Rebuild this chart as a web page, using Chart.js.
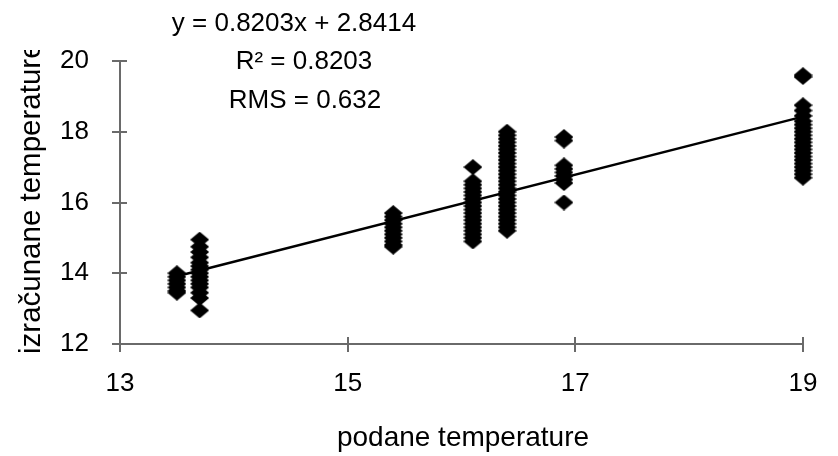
<!DOCTYPE html>
<html>
<head>
<meta charset="utf-8">
<script src="https://cdn.jsdelivr.net/npm/chart.js@4.4.0/dist/chart.umd.min.js"></script>
<style>
  html, body { margin: 0; padding: 0; background: #fff; }
</style>
</head>
<body>
<canvas id="chart" width="838" height="456"></canvas>
<script>
// axis ticks
const xTicks = [13, 15, 17, 19];
const yTicks = [12, 14, 16, 18, 20];

// measured y values, one list per measured x
const at13_5 = [14.0, 13.9, 13.8, 13.7, 13.6, 13.5, 13.45];
const at13_7 = [14.95, 14.75, 14.6, 14.45, 14.3, 14.2, 14.1, 14.0, 13.9, 13.8, 13.7, 13.6, 13.45, 13.3, 12.95];
const at15_4 = [15.7, 15.6, 15.5, 15.4, 15.3, 15.2, 15.1, 15.0, 14.9, 14.8, 14.75];
const at16_1 = [17.0, 16.6, 16.5, 16.4, 16.3, 16.2, 16.1, 16.0, 15.9, 15.8, 15.7, 15.6, 15.5, 15.4, 15.3, 15.2, 15.1, 15.0, 14.9];
const at16_4 = [18.0, 17.9, 17.8, 17.7, 17.6, 17.5, 17.4, 17.3, 17.2, 17.1, 17.0, 16.9, 16.8, 16.7, 16.6, 16.5, 16.4, 16.3, 16.2, 16.1, 16.0, 15.9, 15.8, 15.7, 15.6, 15.5, 15.4, 15.3, 15.2];
const at16_9 = [17.85, 17.75, 17.05, 16.95, 16.85, 16.75, 16.65, 16.55, 16.0];
const at19_0 = [19.6, 19.55, 18.75, 18.6, 18.45, 18.3, 18.2, 18.1, 18.0, 17.9, 17.8, 17.7, 17.6, 17.5, 17.4, 17.3, 17.2, 17.1, 17.0, 16.9, 16.8, 16.7];

const clusterX = [13.5, 13.7, 15.4, 16.1, 16.4, 16.9, 19.0];
const clusterY = [at13_5, at13_7, at15_4, at16_1, at16_4, at16_9, at19_0];

// fitted line (from the equation on the chart)
const fitSlope = 0.8203;
const fitIntercept = 2.8414;
const fitX = [13.5, 19];

const fitLabels = ['y = 0.8203x + 2.8414', 'R\u00B2 = 0.8203', 'RMS = 0.632'];
const xTitle = 'podane temperature';
const yTitle = 'izračunane temperature';

const FONT = '"Liberation Sans", Arial, sans-serif';
const axisColor = '#6a6a6a';

const points = [];
clusterX.forEach((x, i) => clusterY[i].forEach(y => points.push({ x, y })));
const fitPoints = fitX.map(x => ({ x, y: fitSlope * x + fitIntercept }));

// diamond marker, a bit wider than tall like the original
function makeDiamond(w, h) {
  const c = document.createElement('canvas');
  c.width = w; c.height = h;
  const g = c.getContext('2d');
  g.fillStyle = '#000';
  g.beginPath();
  g.moveTo(0, h / 2);
  g.lineTo(w / 2, 0);
  g.lineTo(w, h / 2);
  g.lineTo(w / 2, h);
  g.closePath();
  g.fill();
  return c;
}
const diamond = makeDiamond(19, 16);

const decorPlugin = {
  id: 'decor',
  beforeDatasetsDraw(chart) {
    const { ctx, scales: { x, y } } = chart;
    ctx.save();
    // tick marks crossing the axes
    ctx.strokeStyle = axisColor;
    ctx.lineWidth = 2;
    xTicks.forEach(v => {
      const px = Math.round(x.getPixelForValue(v));
      ctx.beginPath();
      ctx.moveTo(px, y.bottom - 7);
      ctx.lineTo(px, y.bottom + 8);
      ctx.stroke();
    });
    yTicks.forEach(v => {
      const py = Math.round(y.getPixelForValue(v));
      ctx.beginPath();
      ctx.moveTo(x.left - 8, py);
      ctx.lineTo(x.left + 7, py);
      ctx.stroke();
    });
    ctx.restore();
  },
  afterDraw(chart) {
    const { ctx } = chart;
    ctx.save();
    // regression text
    ctx.fillStyle = '#000';
    ctx.font = '26px ' + FONT;
    ctx.textAlign = 'center';
    ctx.textBaseline = 'alphabetic';
    ctx.fillText(fitLabels[0], 294, 31);
    ctx.fillText(fitLabels[1], 304, 69);
    ctx.fillText(fitLabels[2], 305, 108);

    // x title
    ctx.font = '28px ' + FONT;
    ctx.fillText(xTitle, 463, 446);

    // y title, clipped at the top like the original
    ctx.font = '29.5px ' + FONT;
    ctx.beginPath();
    ctx.rect(0, 50, 80, 406);
    ctx.clip();
    ctx.translate(40, 354);
    ctx.rotate(-Math.PI / 2);
    ctx.textAlign = 'left';
    ctx.fillText(yTitle, 0, 0);
    ctx.restore();
  }
};

new Chart(document.getElementById('chart'), {
  type: 'scatter',
  data: {
    datasets: [
      {
        label: 'data',
        data: points,
        pointStyle: diamond,
        pointRadius: 8,
        pointHoverRadius: 8,
        clip: false,
        order: 2
      },
      {
        type: 'line',
        label: 'fit',
        data: fitPoints,
        borderColor: '#000',
        borderWidth: 2.5,
        pointRadius: 0,
        showLine: true,
        fill: false,
        clip: false,
        order: 1
      }
    ]
  },
  options: {
    responsive: false,
    animation: false,
    devicePixelRatio: 1,
    layout: { padding: { top: 61, right: 35, left: 0, bottom: 0 } },
    plugins: { legend: { display: false }, tooltip: { enabled: false } },
    scales: {
      x: {
        type: 'linear',
        min: 13, max: 19,
        afterBuildTicks: s => { s.ticks = xTicks.map(v => ({ value: v })); },
        afterFit: s => { s.height = 112; },
        grid: { display: false },
        border: { display: true, color: axisColor, width: 2 },
        ticks: { color: '#000', font: { family: FONT, size: 26 }, padding: 16, maxRotation: 0 }
      },
      y: {
        type: 'linear',
        min: 12, max: 20,
        afterBuildTicks: s => { s.ticks = yTicks.map(v => ({ value: v })); },
        afterFit: s => { s.width = 120; },
        grid: { display: false },
        border: { display: true, color: axisColor, width: 2 },
        ticks: { color: '#000', font: { family: FONT, size: 26 }, padding: 23 }
      }
    }
  },
  plugins: [decorPlugin]
});
</script>
</body>
</html>
